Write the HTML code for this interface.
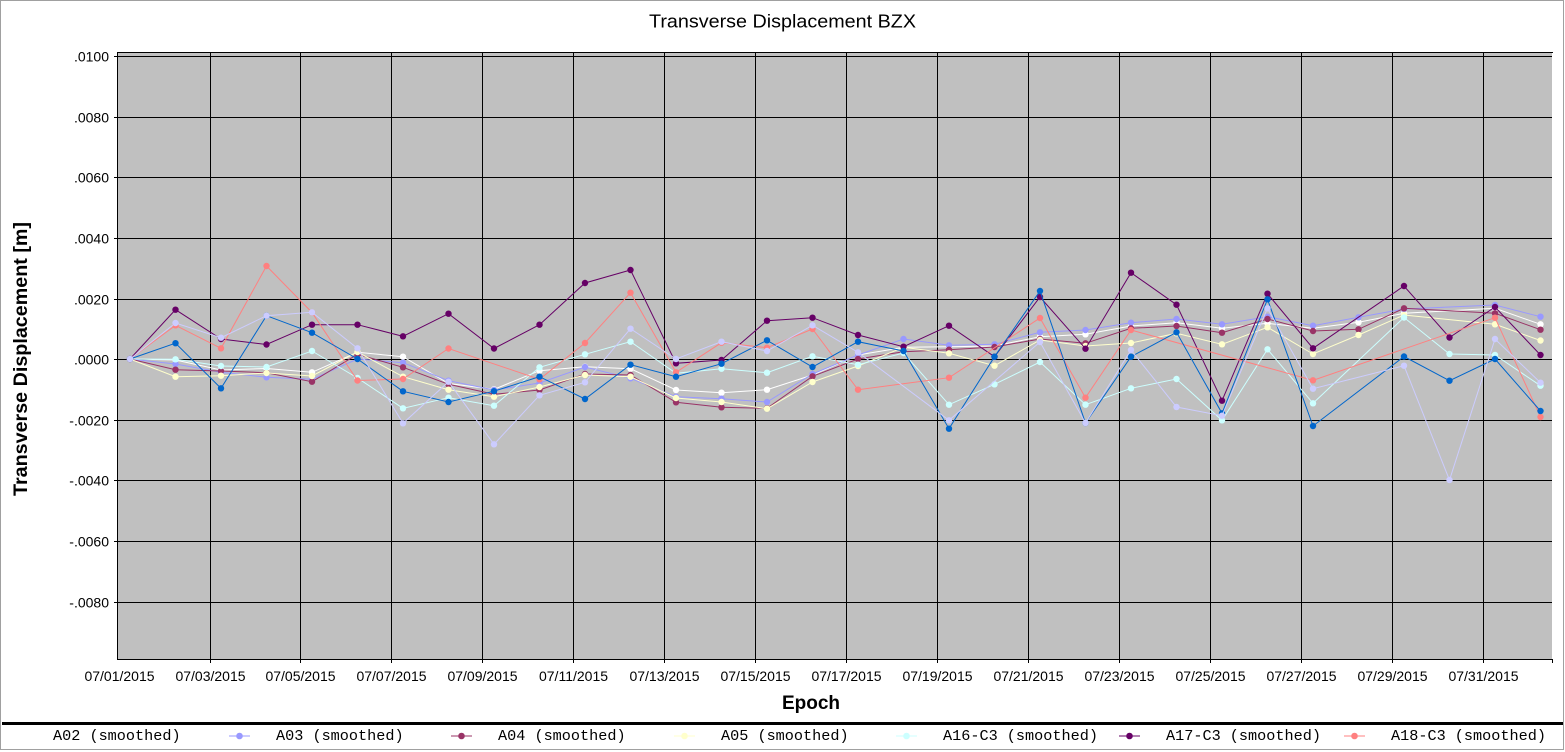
<!DOCTYPE html>
<html>
<head>
<meta charset="utf-8">
<style>
  html,body{margin:0;padding:0;background:#fff;}
  svg{display:block;}
  text{font-family:"Liberation Sans",Arial,sans-serif;fill:#000;}
  .mono{font-family:"Liberation Mono","Courier New",monospace;}
</style>
</head>
<body>
<svg width="1565" height="752" viewBox="0 0 1565 752" xmlns="http://www.w3.org/2000/svg">
  <defs>
    <marker id="mW" markerUnits="userSpaceOnUse" markerWidth="8" markerHeight="8" refX="4" refY="4" overflow="visible"><circle cx="4" cy="4" r="3.2" fill="#ffffff"/></marker>
    <marker id="m03" markerUnits="userSpaceOnUse" markerWidth="8" markerHeight="8" refX="4" refY="4" overflow="visible"><circle cx="4" cy="4" r="3.2" fill="#9999ff"/></marker>
    <marker id="m04" markerUnits="userSpaceOnUse" markerWidth="8" markerHeight="8" refX="4" refY="4" overflow="visible"><circle cx="4" cy="4" r="3.2" fill="#993366"/></marker>
    <marker id="m05" markerUnits="userSpaceOnUse" markerWidth="8" markerHeight="8" refX="4" refY="4" overflow="visible"><circle cx="4" cy="4" r="3.2" fill="#ffffcc"/></marker>
    <marker id="m16" markerUnits="userSpaceOnUse" markerWidth="8" markerHeight="8" refX="4" refY="4" overflow="visible"><circle cx="4" cy="4" r="3.2" fill="#ccffff"/></marker>
    <marker id="m17" markerUnits="userSpaceOnUse" markerWidth="8" markerHeight="8" refX="4" refY="4" overflow="visible"><circle cx="4" cy="4" r="3.2" fill="#660066"/></marker>
    <marker id="m18" markerUnits="userSpaceOnUse" markerWidth="8" markerHeight="8" refX="4" refY="4" overflow="visible"><circle cx="4" cy="4" r="3.2" fill="#ff8080"/></marker>
    <marker id="mB" markerUnits="userSpaceOnUse" markerWidth="8" markerHeight="8" refX="4" refY="4" overflow="visible"><circle cx="4" cy="4" r="3.2" fill="#0066cc"/></marker>
    <marker id="mL" markerUnits="userSpaceOnUse" markerWidth="8" markerHeight="8" refX="4" refY="4" overflow="visible"><circle cx="4" cy="4" r="3.2" fill="#ccccff"/></marker>
  </defs>

  <!-- outer border -->
  <rect x="0.5" y="0.5" width="1563" height="749" fill="#ffffff" stroke="#a0a0a0" stroke-width="1"/>

  <!-- title -->
  <text x="782.5" y="27.5" font-size="18" text-anchor="middle" textLength="267" lengthAdjust="spacingAndGlyphs">Transverse Displacement BZX</text>

  <!-- plot area -->
  <rect x="118" y="53" width="1434" height="606" fill="#c0c0c0"/>

  <!-- grid -->
  <g stroke="#000" stroke-width="1" shape-rendering="crispEdges">
    <line x1="114" y1="56.5" x2="1552" y2="56.5"/>
    <line x1="114" y1="117.5" x2="1552" y2="117.5"/>
    <line x1="114" y1="177.5" x2="1552" y2="177.5"/>
    <line x1="114" y1="238.5" x2="1552" y2="238.5"/>
    <line x1="114" y1="299.5" x2="1552" y2="299.5"/>
    <line x1="114" y1="359.5" x2="1552" y2="359.5"/>
    <line x1="114" y1="420.5" x2="1552" y2="420.5"/>
    <line x1="114" y1="480.5" x2="1552" y2="480.5"/>
    <line x1="114" y1="541.5" x2="1552" y2="541.5"/>
    <line x1="114" y1="602.5" x2="1552" y2="602.5"/>

    <line x1="210.5" y1="53" x2="210.5" y2="663"/>
    <line x1="300.5" y1="53" x2="300.5" y2="663"/>
    <line x1="391.5" y1="53" x2="391.5" y2="663"/>
    <line x1="482.5" y1="53" x2="482.5" y2="663"/>
    <line x1="573.5" y1="53" x2="573.5" y2="663"/>
    <line x1="664.5" y1="53" x2="664.5" y2="663"/>
    <line x1="755.5" y1="53" x2="755.5" y2="663"/>
    <line x1="846.5" y1="53" x2="846.5" y2="663"/>
    <line x1="937.5" y1="53" x2="937.5" y2="663"/>
    <line x1="1028.5" y1="53" x2="1028.5" y2="663"/>
    <line x1="1119.5" y1="53" x2="1119.5" y2="663"/>
    <line x1="1210.5" y1="53" x2="1210.5" y2="663"/>
    <line x1="1301.5" y1="53" x2="1301.5" y2="663"/>
    <line x1="1392.5" y1="53" x2="1392.5" y2="663"/>
    <line x1="1483.5" y1="53" x2="1483.5" y2="663"/>
    <line x1="1552.5" y1="659" x2="1552.5" y2="663"/>

    <!-- axes -->
    <line x1="117.5" y1="52" x2="117.5" y2="660"/>
    <line x1="117" y1="52.5" x2="1553" y2="52.5"/>
    <line x1="117" y1="659.5" x2="1553" y2="659.5"/>
  </g>

  <!-- y tick labels -->
  <g font-size="14" text-anchor="end">
    <text x="109" y="61.5">.0100</text>
    <text x="109" y="122.5">.0080</text>
    <text x="109" y="182.5">.0060</text>
    <text x="109" y="243.5">.0040</text>
    <text x="109" y="304.5">.0020</text>
    <text x="109" y="364.5">.0000</text>
    <text x="109" y="425.5">-.0020</text>
    <text x="109" y="485.5">-.0040</text>
    <text x="109" y="546.5">-.0060</text>
    <text x="109" y="607.5">-.0080</text>
  </g>

  <!-- x tick labels -->
  <g font-size="14" text-anchor="middle">
    <text x="119.5" y="681">07/01/2015</text>
    <text x="210.5" y="681">07/03/2015</text>
    <text x="300.5" y="681">07/05/2015</text>
    <text x="391.5" y="681">07/07/2015</text>
    <text x="482.5" y="681">07/09/2015</text>
    <text x="573.5" y="681">07/11/2015</text>
    <text x="664.5" y="681">07/13/2015</text>
    <text x="755.5" y="681">07/15/2015</text>
    <text x="846.5" y="681">07/17/2015</text>
    <text x="937.5" y="681">07/19/2015</text>
    <text x="1028.5" y="681">07/21/2015</text>
    <text x="1119.5" y="681">07/23/2015</text>
    <text x="1210.5" y="681">07/25/2015</text>
    <text x="1301.5" y="681">07/27/2015</text>
    <text x="1392.5" y="681">07/29/2015</text>
    <text x="1483.5" y="681">07/31/2015</text>
  </g>

  <!-- axis titles -->
  <text x="811" y="709" font-size="19" font-weight="bold" text-anchor="middle">Epoch</text>
  <text transform="translate(27,359) rotate(-90)" font-size="19" font-weight="bold" text-anchor="middle" textLength="274" lengthAdjust="spacingAndGlyphs">Transverse Displacement [m]</text>

  <!-- series -->
  <g fill="none" stroke-width="1">
    <!-- A02 white -->
    <polyline stroke="#ffffff" marker-start="url(#mW)" marker-mid="url(#mW)" marker-end="url(#mW)"
      points="130,359 175.5,360 221,370 266.5,368.5 312,372.3 357.5,352.3 403,356.7 448.5,383.5 494,389.3 539.5,370.7 585,366.7 630.5,368.7 676,390 721.5,392.7 767,389.7 812.5,375 858,355 903.5,347.3 949,346.7 994.5,346 1040,336.7 1085.5,334.3 1131,326 1176.5,322.7 1222,328.3 1267.5,323.3 1313,328.3 1358.5,322.3 1404,313.3 1495,308.3 1540.5,324.3"/>
    <!-- A03 -->
    <polyline stroke="#9999ff" marker-start="url(#m03)" marker-mid="url(#m03)" marker-end="url(#m03)"
      points="130,359 175.5,364 221,372.3 266.5,377.3 312,379.3 357.5,359 403,362.7 448.5,380.7 494,390 539.5,383 585,367 630.5,378.3 676,396.7 721.5,398.7 767,402 812.5,374 858,355 903.5,339 949,345.3 994.5,344.3 1040,332.3 1085.5,330 1131,322.7 1176.5,319 1222,324.3 1267.5,316.7 1313,325.7 1358.5,317.3 1404,309 1495,305 1540.5,316.7"/>
    <!-- A04 -->
    <polyline stroke="#993366" marker-start="url(#m04)" marker-mid="url(#m04)" marker-end="url(#m04)"
      points="130,359 175.5,369.7 221,371 266.5,372.7 312,381.7 357.5,354.3 403,367.3 448.5,384.3 494,394.3 539.5,390 585,374 630.5,375 676,402.3 721.5,407.3 767,408.3 812.5,376.3 858,359 903.5,351.7 949,349.7 994.5,347 1040,339 1085.5,343.3 1131,328.3 1176.5,326 1222,332.7 1267.5,319 1313,331 1358.5,329.3 1404,308.3 1495,313.3 1540.5,329.7"/>
    <!-- A05 -->
    <polyline stroke="#ffffcc" marker-start="url(#m05)" marker-mid="url(#m05)" marker-end="url(#m05)"
      points="130,359 175.5,376.7 221,375.7 266.5,373 312,376 357.5,352 403,376.7 448.5,389.7 494,396.7 539.5,387 585,375 630.5,376.7 676,398 721.5,402 767,408.7 812.5,382 858,366 903.5,347.3 949,353.3 994.5,365.7 1040,340 1085.5,346 1131,343 1176.5,333.3 1222,344.3 1267.5,327.3 1313,354 1358.5,335 1404,315 1495,324.3 1540.5,340.5"/>
    <!-- A16-C3 -->
    <polyline stroke="#ccffff" marker-start="url(#m16)" marker-mid="url(#m16)" marker-end="url(#m16)"
      points="130,359 175.5,359.3 221,366 266.5,367 312,351 357.5,378 403,408.3 448.5,397.7 494,405.7 539.5,367.3 585,354.3 630.5,341.7 676,373.3 721.5,368.7 767,372.7 812.5,356.3 858,364.7 903.5,353 949,404.7 994.5,384.3 1040,362 1085.5,404.7 1131,388.3 1176.5,379 1222,420.3 1267.5,349.3 1313,403.3 1404,317.5 1449.5,354 1495,355 1540.5,385.7"/>
    <!-- A17-C3 -->
    <polyline stroke="#660066" marker-start="url(#m17)" marker-mid="url(#m17)" marker-end="url(#m17)"
      points="130,359 175.5,309.7 221,339 266.5,344.5 312,324.7 357.5,324.7 403,336.3 448.5,313.7 494,348.5 539.5,324.7 585,283 630.5,270 676,363.3 721.5,360 767,320.7 812.5,317.7 858,335 903.5,346.7 949,325.7 994.5,356.7 1040,297 1085.5,348.7 1131,272.7 1176.5,304.7 1222,400.7 1267.5,293.7 1313,348.3 1404,286 1449.5,337.5 1495,307 1540.5,355"/>
    <!-- A18-C3 -->
    <polyline stroke="#ff8080" marker-start="url(#m18)" marker-mid="url(#m18)" marker-end="url(#m18)"
      points="130,359 175.5,325.3 221,348.3 266.5,266 312,312.5 357.5,380.5 403,379 448.5,348.5 539.5,379.3 585,343 630.5,292.7 676,372.3 721.5,342.7 767,347.7 812.5,329 858,389.7 949,377.7 1040,318 1085.5,397.7 1131,330 1313,380.3 1495,317.7 1540.5,417"/>
    <!-- blue -->
    <polyline stroke="#0066cc" marker-start="url(#mB)" marker-mid="url(#mB)" marker-end="url(#mB)"
      points="130,359 175.5,343.2 221,388.3 266.5,315.7 312,332.7 357.5,359 403,391.3 448.5,402 494,391.2 539.5,376.7 585,399 630.5,364.7 676,376.7 721.5,363.7 767,340.3 812.5,367 858,341.7 903.5,351 949,428.7 994.5,356.7 1040,291 1085.5,423 1131,356.7 1176.5,332.3 1222,413.3 1267.5,299.3 1313,426 1404,356.5 1449.5,380.7 1495,359 1540.5,411"/>
    <!-- lavender -->
    <polyline stroke="#ccccff" marker-start="url(#mL)" marker-mid="url(#mL)" marker-end="url(#mL)"
      points="130,359 175.5,323 221,337.7 266.5,315.7 312,312.3 357.5,348.3 403,423.3 448.5,381.7 494,444.3 539.5,395.3 585,382.3 630.5,328.7 676,359 721.5,341.7 767,351 812.5,325.3 858,352.3 949,420.3 1040,342 1085.5,423 1131,350 1176.5,407 1222,415.7 1267.5,308.3 1313,388.7 1404,365.7 1449.5,480 1495,339 1540.5,382.7"/>
  </g>

  <!-- legend -->
  <rect x="2" y="722" width="1561" height="3" fill="#000"/>
  <g class="mono" font-size="15.2">
    <text class="mono" x="53" y="740">A02 (smoothed)</text>
    <text class="mono" x="276" y="740">A03 (smoothed)</text>
    <text class="mono" x="498" y="740">A04 (smoothed)</text>
    <text class="mono" x="721" y="740">A05 (smoothed)</text>
    <text class="mono" x="943" y="740">A16-C3 (smoothed)</text>
    <text class="mono" x="1166" y="740">A17-C3 (smoothed)</text>
    <text class="mono" x="1391" y="740">A18-C3 (smoothed)</text>
  </g>
  <g stroke-width="1">
    <line x1="229" y1="736" x2="250" y2="736" stroke="#9999ff"/><circle cx="239.5" cy="736" r="3.3" fill="#9999ff"/>
    <line x1="451" y1="736" x2="472" y2="736" stroke="#993366"/><circle cx="461.5" cy="736" r="3.3" fill="#993366"/>
    <line x1="674" y1="736" x2="695" y2="736" stroke="#ffffcc"/><circle cx="684.5" cy="736" r="3.3" fill="#ffffcc"/>
    <line x1="896" y1="736" x2="917" y2="736" stroke="#ccffff"/><circle cx="906.5" cy="736" r="3.3" fill="#ccffff"/>
    <line x1="1119" y1="736" x2="1140" y2="736" stroke="#660066"/><circle cx="1129.5" cy="736" r="3.3" fill="#660066"/>
    <line x1="1344" y1="736" x2="1365" y2="736" stroke="#ff8080"/><circle cx="1354.5" cy="736" r="3.3" fill="#ff8080"/>
  </g>
</svg>
</body>
</html>
